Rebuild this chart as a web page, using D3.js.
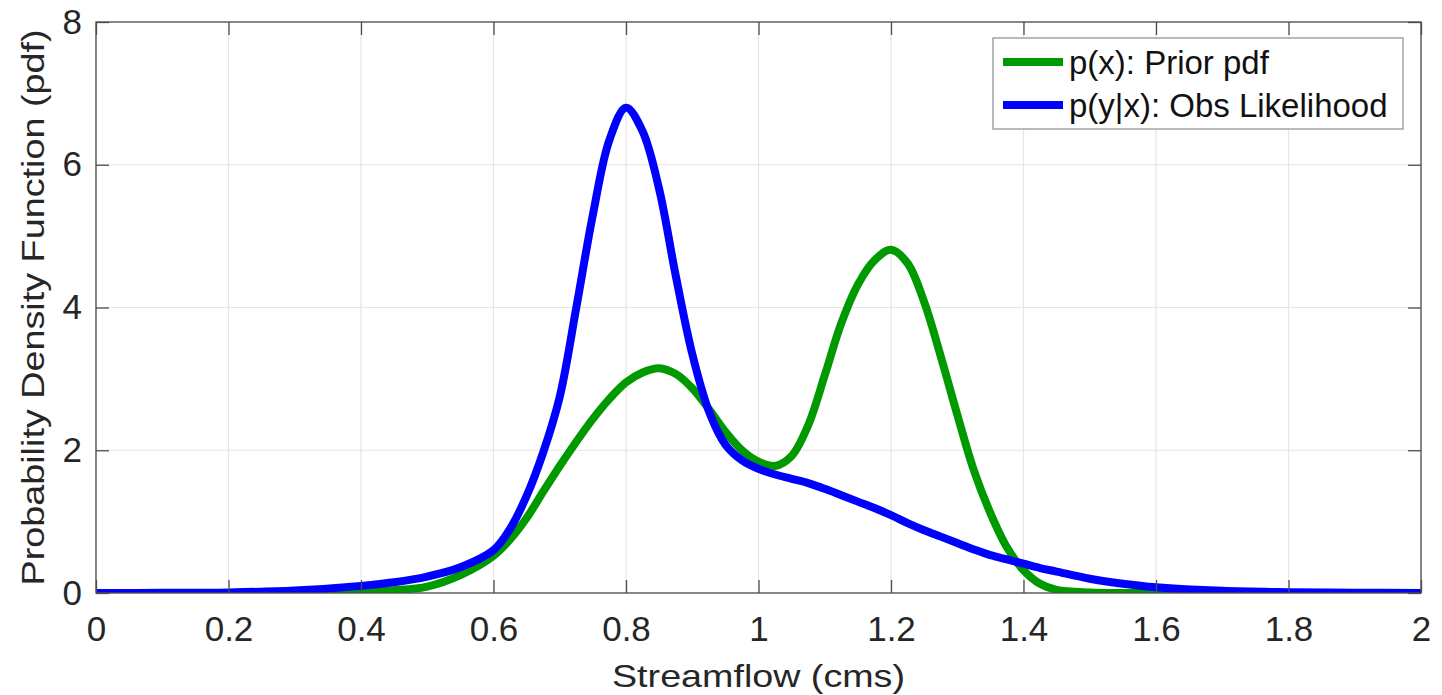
<!DOCTYPE html>
<html>
<head>
<meta charset="utf-8">
<script src="https://cdn.jsdelivr.net/npm/d3@7"></script>
<style>
  body { margin: 0; background: #fff; }
  svg { display: block; font-family: "Liberation Sans", Arial, sans-serif; }
</style>
</head>
<body>
<svg id="chart" width="1442" height="695"></svg>
<script>
// streamflow grid (cms)
var flow = [0, 0.1, 0.2, 0.3, 0.4, 0.45, 0.5, 0.55, 0.6, 0.625, 0.65, 0.675, 0.7, 0.725, 0.75, 0.775,
  0.8, 0.825, 0.85, 0.875, 0.9, 0.925, 0.95, 0.975, 1.0, 1.025, 1.05, 1.075, 1.1, 1.125, 1.15, 1.175,
  1.2, 1.225, 1.25, 1.275, 1.3, 1.325, 1.35, 1.375, 1.4, 1.425, 1.45, 1.5, 1.55, 1.6, 1.7, 1.8, 1.9, 2.0];

// p(x): prior pdf
var prior = [0, 0, 0.001, 0.004, 0.02, 0.04, 0.09, 0.25, 0.52, 0.75, 1.05, 1.42, 1.78, 2.12, 2.44, 2.72,
  2.95, 3.09, 3.15, 3.07, 2.87, 2.58, 2.26, 2.0, 1.84, 1.78, 1.92, 2.35, 3.05, 3.78, 4.32, 4.66,
  4.81, 4.62, 4.08, 3.32, 2.5, 1.72, 1.12, 0.64, 0.32, 0.13, 0.045, 0.008, 0.001, 0, 0, 0, 0, 0];

// p(y|x): observation likelihood
var likelihood = [0, 0.002, 0.008, 0.035, 0.1, 0.15, 0.23, 0.36, 0.6, 0.9, 1.36, 1.97, 2.75, 4.0, 5.3, 6.35,
  6.8, 6.47, 5.66, 4.45, 3.35, 2.55, 2.08, 1.86, 1.74, 1.66, 1.6, 1.54, 1.46, 1.37, 1.28, 1.19,
  1.09, 0.98, 0.88, 0.79, 0.7, 0.61, 0.53, 0.47, 0.41, 0.35, 0.3, 0.2, 0.13, 0.08, 0.03, 0.012, 0.004, 0.001];

var xTicks = [0, 0.2, 0.4, 0.6, 0.8, 1, 1.2, 1.4, 1.6, 1.8, 2];
var yTicks = [0, 2, 4, 6, 8];
var seriesNames = ["p(x): Prior pdf", "p(y|x): Obs Likelihood"];
var seriesColors = ["#009900", "#0000ff"];

var plotLeft = 96, plotRight = 1421, plotTop = 22, plotBottom = 593;
var svg = d3.select("#chart");

var x = d3.scaleLinear().domain([0, 2]).range([plotLeft, plotRight]);
var y = d3.scaleLinear().domain([0, 8]).range([plotBottom, plotTop]);

// grille
var grid = svg.append("g").attr("class", "grid");
grid.selectAll("line.gx").data(xTicks).enter().append("line")
  .attr("class", "gx")
  .attr("x1", d => x(d)).attr("x2", d => x(d))
  .attr("y1", plotTop).attr("y2", plotBottom)
  .style("stroke", "#e5e5e5").style("stroke-width", 1.2);
grid.selectAll("line.gy").data(yTicks).enter().append("line")
  .attr("class", "gy")
  .attr("x1", plotLeft).attr("x2", plotRight)
  .attr("y1", d => y(d)).attr("y2", d => y(d))
  .style("stroke", "#e5e5e5").style("stroke-width", 1.2);

// courbes
svg.append("clipPath").attr("id", "clip").append("rect")
  .attr("x", plotLeft).attr("y", plotTop - 10)
  .attr("width", plotRight - plotLeft).attr("height", plotBottom - plotTop + 10);

var line = d3.line()
  .x(function(d) { return x(d[0]); })
  .y(function(d) { return y(Math.max(0, d[1])); })
  .curve(d3.curveCatmullRom.alpha(0.5));

[prior, likelihood].forEach(function(vals, i) {
  svg.append("path")
    .datum(flow.map(function(f, j) { return [f, vals[j]]; }))
    .attr("d", line)
    .attr("clip-path", "url(#clip)")
    .style("fill", "none")
    .style("stroke", seriesColors[i])
    .style("stroke-width", 8)
    .style("stroke-linejoin", "round");
});

// axes (ticks vers l'intérieur)
var tickFmt = d3.format("~g");
var axisColor = "#4d4d4d";

function styleAxis(g) {
  g.select(".domain").remove();
  g.selectAll(".tick line").style("stroke", axisColor).style("stroke-width", 1.3);
  g.selectAll(".tick text").style("fill", "#262626").style("font-size", "35px")
    .style("font-family", "'Liberation Sans', Arial, sans-serif");
}

svg.append("g").attr("transform", "translate(0," + plotBottom + ")")
  .call(d3.axisBottom(x).tickValues(xTicks).tickFormat(tickFmt).tickSizeInner(-13).tickSizeOuter(0).tickPadding(23))
  .call(styleAxis);
svg.append("g").attr("transform", "translate(0," + plotTop + ")")
  .call(d3.axisTop(x).tickValues(xTicks).tickFormat("").tickSizeInner(-13).tickSizeOuter(0))
  .call(styleAxis);
svg.append("g").attr("transform", "translate(" + plotLeft + ",0)")
  .call(d3.axisLeft(y).tickValues(yTicks).tickFormat(tickFmt).tickSizeInner(-13).tickSizeOuter(0).tickPadding(14))
  .call(styleAxis);
svg.append("g").attr("transform", "translate(" + plotRight + ",0)")
  .call(d3.axisRight(y).tickValues(yTicks).tickFormat("").tickSizeInner(-13).tickSizeOuter(0))
  .call(styleAxis);

// cadre
svg.append("rect")
  .attr("x", plotLeft).attr("y", plotTop)
  .attr("width", plotRight - plotLeft).attr("height", plotBottom - plotTop)
  .style("fill", "none").style("stroke", axisColor).style("stroke-width", 1.3);

// titres des axes
svg.append("text")
  .attr("x", (plotLeft + plotRight) / 2).attr("y", 687)
  .attr("text-anchor", "middle")
  .attr("textLength", 293).attr("lengthAdjust", "spacingAndGlyphs")
  .style("font-size", "32px").style("fill", "#262626")
  .text("Streamflow (cms)");

svg.append("text")
  .attr("transform", "translate(44," + ((plotTop + plotBottom) / 2) + ") rotate(-90)")
  .attr("text-anchor", "middle")
  .attr("textLength", 556).attr("lengthAdjust", "spacingAndGlyphs")
  .style("font-size", "32px").style("fill", "#262626")
  .text("Probability Density Function (pdf)");

// légende
var legend = svg.append("g");
legend.append("rect")
  .attr("x", 993).attr("y", 38).attr("width", 410).attr("height", 91)
  .style("fill", "#fff").style("stroke", "#8c8c8c").style("stroke-width", 1.2);

seriesNames.forEach(function(name, i) {
  var ly = 62 + i * 43;
  legend.append("line")
    .attr("x1", 1003).attr("x2", 1063).attr("y1", ly).attr("y2", ly)
    .style("stroke", seriesColors[i]).style("stroke-width", 8);
  legend.append("text")
    .attr("x", 1069).attr("y", ly + 12)
    .style("font-size", "33px").style("fill", "#111")
    .text(name);
});
</script>
</body>
</html>
